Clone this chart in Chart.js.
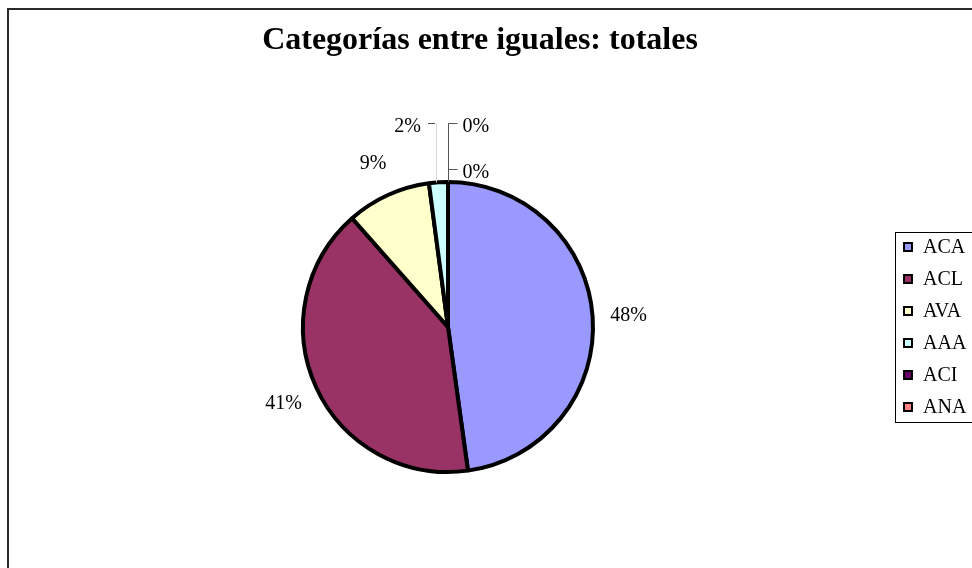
<!DOCTYPE html>
<html>
<head>
<meta charset="utf-8">
<script src="https://cdn.jsdelivr.net/npm/chart.js@4.4.1/dist/chart.umd.min.js"></script>
<style>
  html, body { margin: 0; padding: 0; background: #fff; }
  #pie { display: block; }
</style>
</head>
<body>
<canvas id="pie" width="972" height="568"></canvas>
<script>
// Datos del gráfico
const categories = ['ACA', 'ACL', 'AVA', 'AAA', 'ACI', 'ANA'];
const shares = [47.8, 40.7, 9.4, 2.1, 0, 0];
const sliceColors = ['#9999FF', '#993366', '#FFFFCC', '#CCFFFF', '#660066', '#FF8080'];
const chartTitle = 'Categorías entre iguales: totales';

const serif = '"Liberation Serif", "Times New Roman", serif';

// Marco, título y leyenda al estilo Excel
const framePlugin = {
    id: 'frame',
    beforeDraw(chart) {
        const ctx = chart.ctx;
        ctx.save();
        ctx.fillStyle = '#fff';
        ctx.fillRect(0, 0, chart.width, chart.height);
        ctx.strokeStyle = '#2a2a2a';
        ctx.lineWidth = 2;
        ctx.beginPath();
        ctx.moveTo(8, chart.height + 5);
        ctx.lineTo(8, 9);
        ctx.lineTo(chart.width + 5, 9);
        ctx.stroke();

        ctx.fillStyle = '#000';
        ctx.font = 'bold 32px ' + serif;
        ctx.textAlign = 'center';
        ctx.textBaseline = 'middle';
        ctx.fillText(chartTitle, 480, 41);
        ctx.restore();
    },
    afterDraw(chart) {
        const ctx = chart.ctx;
        const labels = chart.data.labels;
        const colors = chart.data.datasets[0].backgroundColor;
        ctx.save();
        ctx.strokeStyle = '#000';
        ctx.lineWidth = 1;
        ctx.strokeRect(895.5, 232.5, 200, 190);
        ctx.font = '20px ' + serif;
        ctx.textAlign = 'left';
        ctx.textBaseline = 'middle';
        labels.forEach((lab, i) => {
            const y = 247 + i * 32;
            ctx.fillStyle = '#000';
            ctx.fillRect(903, y - 5, 10, 10);
            ctx.fillStyle = colors[i];
            ctx.fillRect(905, y - 3, 6, 6);
            ctx.fillStyle = '#000';
            ctx.fillText(lab, 923, y + 1);
        });
        ctx.restore();
    }
};

// Etiquetas de porcentaje (con líneas guía para los sectores pequeños)
const percentLabels = {
    id: 'percentLabels',
    afterDatasetsDraw(chart) {
        const ctx = chart.ctx;
        const values = chart.data.datasets[0].data;
        const total = values.reduce((a, b) => a + b, 0);
        const arcs = chart.getDatasetMeta(0).data;
        ctx.save();
        ctx.font = '20px ' + serif;
        ctx.fillStyle = '#000';
        let rightLevel = 0;
        arcs.forEach((arc, i) => {
            const p = arc.getProps(['x', 'y', 'startAngle', 'endAngle', 'outerRadius'], true);
            const mid = (p.startAngle + p.endAngle) / 2;
            const pct = values[i] / total * 100;
            const text = Math.round(pct) + '%';
            const R = p.outerRadius;
            if (pct >= 5) {
                ctx.textAlign = 'center';
                ctx.textBaseline = 'middle';
                ctx.fillText(text, p.x + Math.cos(mid) * (R + 36), p.y + Math.sin(mid) * (R + 36) + 1);
                return;
            }
            const rx = p.x + Math.cos(mid) * R;
            const ry = p.y + Math.sin(mid) * R;
            const levels = [p.y - R - 59, p.y - R - 13];
            ctx.lineWidth = 1;
            if (pct > 0) {
                const ly = levels[0];
                ctx.strokeStyle = '#d6d6d6';
                ctx.beginPath();
                ctx.moveTo(Math.round(rx) - 1.5, ry);
                ctx.lineTo(Math.round(rx) - 1.5, ly + 0.5);
                ctx.stroke();
                ctx.strokeStyle = '#555';
                ctx.beginPath();
                ctx.moveTo(Math.round(rx) - 3, ly + 0.5);
                ctx.lineTo(Math.round(rx) - 10, ly + 0.5);
                ctx.stroke();
                ctx.textAlign = 'right';
                ctx.textBaseline = 'middle';
                ctx.fillText(text, Math.round(rx) - 17, ly + 4);
            } else {
                const ly = levels[Math.min(rightLevel, 1)];
                rightLevel++;
                const lx = Math.round(rx) + 0.5;
                ctx.strokeStyle = '#555';
                ctx.beginPath();
                ctx.moveTo(lx, ry);
                ctx.lineTo(lx, ly + 0.5);
                ctx.lineTo(lx + 9, ly + 0.5);
                ctx.stroke();
                ctx.textAlign = 'left';
                ctx.textBaseline = 'middle';
                ctx.fillText(text, lx + 14, ly + 4);
            }
        });
        ctx.restore();
    }
};

new Chart(document.getElementById('pie'), {
    type: 'pie',
    data: {
        labels: categories,
        datasets: [{
            data: shares,
            backgroundColor: sliceColors,
            borderColor: '#000',
            borderWidth: 4,
            hoverBorderWidth: 4
        }]
    },
    options: {
        responsive: false,
        animation: false,
        events: [],
        layout: {
            padding: { top: 180, bottom: 94, left: 301, right: 377 }
        },
        plugins: {
            legend: { display: false },
            title: { display: false },
            tooltip: { enabled: false }
        }
    },
    plugins: [framePlugin, percentLabels]
});
</script>
</body>
</html>
